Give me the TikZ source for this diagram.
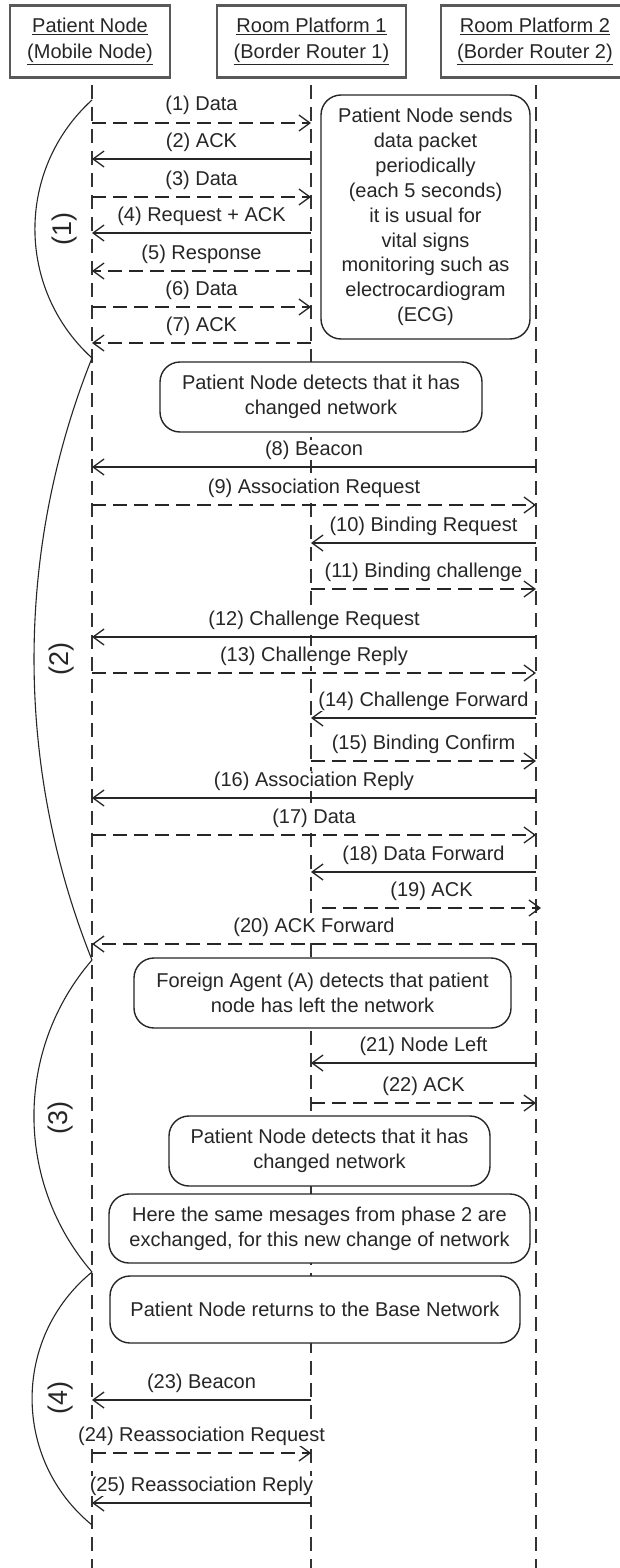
\documentclass[tikz,border=0pt]{standalone}
\usepackage{fontspec}
\setmainfont{Liberation Sans}
\usetikzlibrary{arrows.meta}

% one message: #1 id, #2 source x, #3 target x, #4 y, #5 style, #6 label
\newcommand\msgarrow[6]{%
  \coordinate (ms#1) at (#2,#4);
  \coordinate (mt#1) at (#3,#4);
  \draw[#5] (ms#1) -- node[lbl] (ml#1) {#6} (mt#1);
}

\begin{document}
\begin{tikzpicture}[x=1pt,y=-1pt,
  life/.style={draw=black!80, line width=1.1pt, dash pattern=on 14pt off 8pt},
  msg/.style={draw=black!85, line width=1.3pt,
    -{Straight Barb[length=11pt,width=16pt,line width=1.3pt]}},
  msgdash/.style={msg, dash pattern=on 14pt off 7pt},
  lbl/.style={midway, anchor=base, yshift=12pt, font=\fontsize{20}{24}\selectfont,
    text=black!85, fill=white, inner sep=0.5pt},
  hdr/.style={draw=black!65, line width=2.4pt, fill=white, align=center,
    font=\fontsize{20}{26}\selectfont, text=black!85, minimum height=72pt, inner sep=0pt},
  note/.style={draw=black!85, line width=1.4pt, fill=white, rounded corners=20pt,
    align=center, font=\fontsize{20}{24.9}\selectfont, text=black!85, inner sep=0pt},
  phase/.style={draw=black!85, line width=1.1pt},
  phlbl/.style={rotate=90, font=\fontsize{27}{27}\selectfont, text=black!85},
]
\path[use as bounding box, fill=white] (0,0) rectangle (620,1568);

% lifelines
\coordinate (lPNt) at (92,85);   \coordinate (lPNb) at (92,1568);
\coordinate (lR1t) at (311,85);  \coordinate (lR1b) at (311,1568);
\coordinate (lR2t) at (536,85);  \coordinate (lR2b) at (536,1568);
\draw[life] (lPNt) -- (lPNb);
\draw[life] (lR1t) -- (lR1b);
\draw[life] (lR2t) -- (lR2b);

% participants
\node[hdr, minimum width=160pt] (hPN) at (90,41.5)
  {\underline{Patient Node}\\\underline{(Mobile Node)}};
\node[hdr, minimum width=189pt] (hR1) at (311.5,41.5)
  {\underline{Room Platform 1}\\\underline{(Border Router 1)}};
\node[hdr, minimum width=188pt] (hR2) at (535,41.5)
  {\underline{Room Platform 2}\\\underline{(Border Router 2)}};

% phase 1
\msgarrow{1}{92}{311}{123}{msgdash}{(1) Data}
\msgarrow{2}{311}{92}{159}{msg}{(2) ACK}
\msgarrow{3}{92}{311}{197}{msgdash}{(3) Data}
\msgarrow{4}{311}{92}{233}{msg}{(4) Request + ACK}
\msgarrow{5}{311}{92}{271}{msgdash}{(5) Response}
\msgarrow{6}{92}{311}{307}{msgdash}{(6) Data}
\msgarrow{7}{311}{92}{343}{msgdash}{(7) ACK}

\node[note, minimum width=209pt, minimum height=244pt] (nSend) at (425.5,217)
  {Patient Node sends\\data packet\\periodically\\(each 5 seconds)\\it is usual for\\vital signs\\monitoring such as\\electrocardiogram\\(ECG)};

% phase 2
\node[note, minimum width=322pt, minimum height=70pt] (nDetA) at (321,397)
  {Patient Node detects that it has\\changed network};
\msgarrow{8}{536}{92}{467}{msg}{(8) Beacon}
\msgarrow{9}{92}{536}{505}{msgdash}{(9) Association Request}
\msgarrow{10}{536}{311}{543}{msg}{(10) Binding Request}
\msgarrow{11}{311}{536}{589}{msgdash}{(11) Binding challenge}
\msgarrow{12}{536}{92}{637}{msg}{(12) Challenge Request}
\msgarrow{13}{92}{536}{673}{msgdash}{(13) Challenge Reply}
\msgarrow{14}{536}{311}{718}{msg}{(14) Challenge Forward}
\msgarrow{15}{311}{536}{761}{msgdash}{(15) Binding Confirm}
\msgarrow{16}{536}{92}{798}{msg}{(16) Association Reply}
\msgarrow{17}{92}{536}{835}{msgdash}{(17) Data}
\msgarrow{18}{536}{311}{872}{msg}{(18) Data Forward}
\msgarrow{19}{322}{541}{908}{msgdash}{(19) ACK}
\msgarrow{20}{536}{92}{944}{msgdash}{(20) ACK Forward}

% phase 3
\node[note, minimum width=377pt, minimum height=70pt] (nFA) at (322.5,993)
  {Foreign Agent (A) detects that patient\\node has left the network};
\msgarrow{21}{536}{311}{1063}{msg}{(21) Node Left}
\msgarrow{22}{311}{536}{1103}{msgdash}{(22) ACK}
\node[note, minimum width=321pt, minimum height=70pt] (nDetB) at (329.5,1151)
  {Patient Node detects that it has\\changed network};
\node[note, minimum width=421pt, minimum height=69pt] (nSame) at (319.5,1228.5)
  {Here the same mesages from phase 2 are\\exchanged, for this new change of network};

% phase 4
\node[note, minimum width=410pt, minimum height=67pt] (nBase) at (315,1309.5)
  {Patient Node returns to the Base Network};
\msgarrow{23}{311}{92}{1400}{msg}{(23) Beacon}
\msgarrow{24}{92}{311}{1453}{msgdash}{(24) Reassociation Request}
\msgarrow{25}{311}{92}{1503}{msg}{(25) Reassociation Reply}

% phase brackets
\coordinate (ph0) at (92,100);
\coordinate (ph1) at (92,358);
\coordinate (ph2) at (92,960);
\coordinate (ph3) at (92,1272);
\coordinate (ph4) at (92,1525);
\draw[phase] (ph0) .. controls (15.9,169.2) and (15.9,288.8) .. (ph1);
\draw[phase] (ph1) .. controls (14.7,551.1) and (14.7,766.9) .. (ph2);
\draw[phase] (ph2) .. controls (14.6,1049.6) and (14.6,1182.4) .. (ph3);
\draw[phase] (ph3) .. controls (12.1,1337.4) and (12.1,1459.6) .. (ph4);
\node[phlbl] (pl1) at (65,229) {(1)};
\node[phlbl] (pl2) at (62,659) {(2)};
\node[phlbl] (pl3) at (61,1118) {(3)};
\node[phlbl] (pl4) at (61,1398) {(4)};
\end{tikzpicture}
\end{document}
